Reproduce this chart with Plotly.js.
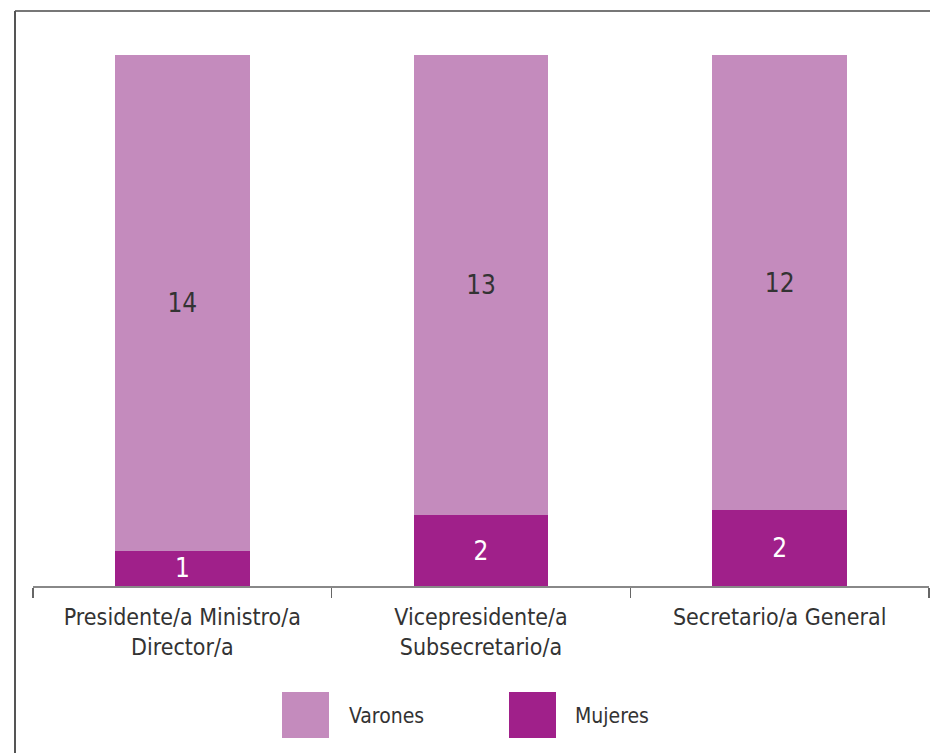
<!DOCTYPE html>
<html><head><meta charset="utf-8">
<script src="https://cdn.plot.ly/plotly-3.0.1.min.js"></script>
<style>html,body{margin:0;padding:0;background:#fff}#chart{width:930px;height:753px}</style>
</head><body><div id="chart"></div>
<script>
const categories = ["Presidente/a Ministro/a<br>Director/a", "Vicepresidente/a<br>Subsecretario/a", "Secretario/a General"];
const seriesNames = ["Mujeres", "Varones"];
const mujeres = [1, 2, 2];
const varones = [14, 13, 12];
const colors = {Mujeres: "#A0208A", Varones: "#C48BBD"};
const FONT = "'Liberation Sans Narrow', 'DejaVu Sans Condensed', 'Roboto Condensed', sans-serif";

const traces = [
  {type: "bar", name: seriesNames[0], x: categories, y: mujeres, text: mujeres.map(String),
   marker: {color: colors.Mujeres}, textposition: "inside", insidetextanchor: "middle",
   constraintext: "none", textangle: 0, textfont: {color: "#ffffff", size: 26, family: FONT}, hoverinfo: "none"},
  {type: "bar", name: seriesNames[1], x: categories, y: varones, text: varones.map(String),
   marker: {color: colors.Varones}, textposition: "inside", insidetextanchor: "middle",
   constraintext: "none", textangle: 0, textfont: {color: "#333333", size: 26, family: FONT}, hoverinfo: "none"}
];

// plot area: x 33..929, y 55..586
const L = 33, R = 929, T = 55, B = 586, W = 930, H = 753;
const px = v => (v - L) / (R - L);
const py = v => (B - v) / (B - T);

const shapes = [
  {type: "line", xref: "paper", yref: "paper", x0: px(15), x1: px(930), y0: py(11), y1: py(11), line: {color: "#777", width: 2}},
  {type: "line", xref: "paper", yref: "paper", x0: px(15), x1: px(15), y0: py(11), y1: py(753), line: {color: "#555", width: 2}},
  {type: "rect", xref: "paper", yref: "paper", x0: px(282), x1: px(329), y0: py(692), y1: py(738), fillcolor: colors.Varones, line: {width: 0}},
  {type: "rect", xref: "paper", yref: "paper", x0: px(509), x1: px(556), y0: py(692), y1: py(738), fillcolor: colors.Mujeres, line: {width: 0}}
];
const annotations = [
  {xref: "paper", yref: "paper", x: px(347), y: py(716), xanchor: "left", yanchor: "middle", text: seriesNames[1], showarrow: false, font: {size: 21, color: "#333", family: FONT}},
  {xref: "paper", yref: "paper", x: px(573), y: py(716), xanchor: "left", yanchor: "middle", text: seriesNames[0], showarrow: false, font: {size: 21, color: "#333", family: FONT}}
];

const layout = {
  width: W, height: H,
  margin: {l: L, r: W - R, t: T, b: H - B},
  paper_bgcolor: "#fff", plot_bgcolor: "#fff",
  barmode: "stack", barnorm: "percent", bargap: 0.55,
  showlegend: false,
  font: {family: FONT, color: "#333"},
  xaxis: {
    type: "category", tickson: "boundaries", ticks: "outside", ticklen: 10, tickcolor: "#666", tickwidth: 1.5,
    showline: true, linecolor: "#888", linewidth: 2, showgrid: false, ticklabelstandoff: 9,
    tickfont: {size: 23, color: "#333", family: FONT}, fixedrange: true
  },
  yaxis: {range: [0, 100], visible: false, showgrid: false, zeroline: false, fixedrange: true},
  shapes: shapes,
  annotations: annotations
};

Plotly.newPlot("chart", traces, layout, {displayModeBar: false, staticPlot: true});
</script>
</body></html>
